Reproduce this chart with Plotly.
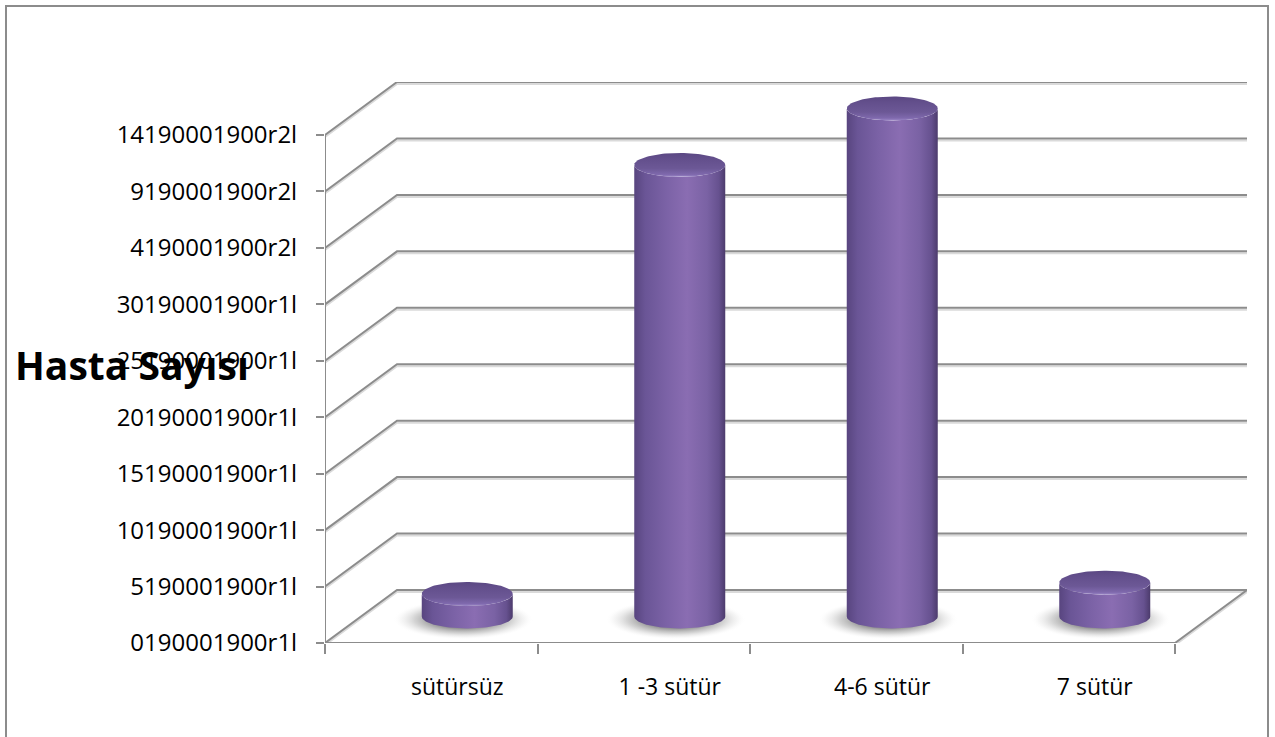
import numpy as np
import plotly.graph_objects as go

# ---------------- data ----------------
categories = ["sütürsüz", "1 -3 sütür", "4-6 sütür", "7 sütür"]
values = [2, 40, 45, 3]
y_tickvals = [0, 5, 10, 15, 20, 25, 30, 35, 40, 45]
y_ticktext = ["0190001900r1l", "5190001900r1l", "10190001900r1l", "15190001900r1l",
              "20190001900r1l", "25190001900r1l", "30190001900r1l", "4190001900r2l",
              "9190001900r2l", "14190001900r2l"]
y_title = "Hasta Sayısı"

# ---------------- layout geometry / style ----------------
W, H = 1275, 737
ML, MR, MT, MB = 325, 28, 82, 94
n = len(categories)
ymax = max(y_tickvals)
plot_w = W - ML - MR
plot_h = H - MT - MB
depth_px = (72, 53)
px_x = (plot_w - depth_px[0]) / n
px_y = (plot_h - depth_px[1]) / ymax
dx = depth_px[0] / px_x
dy = depth_px[1] / px_y

GRID = "#8c8c8c"
GRID_LIGHT = "#dadada"
FONT = "Open Sans"

fig = go.Figure()

# ---------------- walls / gridlines ----------------
def add_line(xs, ys, color, width):
    fig.add_trace(go.Scatter(x=xs, y=ys, mode="lines", line=dict(color=color, width=width),
                             hoverinfo="skip", showlegend=False, cliponaxis=False))

off = 2.0 / px_y
for pass_ in range(2):
    xs, ys = [], []
    o = -off if pass_ == 0 else 0
    for v in y_tickvals:
        xs += [0, dx, n + dx, None]
        ys += [v + o, v + dy + o, v + dy + o, None]
    xs += [0, n, n + dx, None]
    ys += [0 + o, 0 + o, dy + o, None]
    if pass_ == 1:
        xs += [0, 0, None]
        ys += [0, ymax, None]
    add_line(xs, ys, GRID_LIGHT if pass_ == 0 else GRID, 2)

# ---------------- cylinders ----------------
rx = 45.5 / px_x
ry = 12.0 / px_y
t_front = np.linspace(np.pi, 2 * np.pi, 60)
t_full = np.linspace(0, 2 * np.pi, 120)

for i, v in enumerate(values):
    cx = i + 0.5 + dx / 2
    y0 = dy / 2
    y1 = y0 + v
    # soft shadow below the base
    sx = cx - 4 / px_x + 70 / px_x * np.cos(t_full)
    sy = y0 - 3 / px_y + 20 / px_y * np.sin(t_full)
    fig.add_trace(go.Scatter(
        x=sx, y=sy, mode="lines", line=dict(width=0), fill="toself",
        fillgradient=dict(type="radial",
                          colorscale=[[0, "rgba(90,90,90,0.85)"], [0.45, "rgba(110,110,110,0.75)"],
                                      [0.7, "rgba(160,160,160,0.45)"], [0.88, "rgba(210,210,210,0.2)"],
                                      [1, "rgba(255,255,255,0)"]]),
        hoverinfo="skip", showlegend=False))
    # body
    bx = list(cx + rx * np.cos(t_front)) + list(cx + rx * np.cos(t_front[::-1]))
    by = list(y0 + ry * np.sin(t_front)) + list(y1 + ry * np.sin(t_front[::-1]))
    fig.add_trace(go.Scatter(
        x=bx, y=by, mode="lines", line=dict(width=0), fill="toself",
        fillgradient=dict(type="horizontal",
                          colorscale=[[0, "#58457f"], [0.12, "#6a5596"], [0.35, "#7b62a6"],
                                      [0.58, "#8a6db2"], [0.8, "#7a62a4"], [0.93, "#66518f"],
                                      [1, "#4c3b6c"]]),
        hoverinfo="skip", showlegend=False))
    # top
    tx = cx + rx * np.cos(t_full)
    ty = y1 + ry * np.sin(t_full)
    fig.add_trace(go.Scatter(
        x=tx, y=ty, mode="lines", line=dict(width=0), fill="toself",
        fillgradient=dict(type="vertical",
                          colorscale=[[0, "#9a86c6"], [0.1, "#7f69ad"], [0.35, "#6c5896"],
                                      [0.75, "#634f8c"], [1, "#5b4883"]]),
        hoverinfo="skip", showlegend=False))

# ---------------- title & frame ----------------
fig.add_annotation(text=f"<b>{y_title}</b>", xref="paper", yref="paper",
                   x=(132 - ML) / plot_w, y=(H - MB - 365) / plot_h,
                   xanchor="center", yanchor="middle", showarrow=False,
                   font=dict(family=FONT, size=39, color="#000000"))
fig.add_shape(type="rect", xref="paper", yref="paper",
              x0=(6 - ML) / plot_w, x1=(1268 - ML) / plot_w,
              y0=(H - MB - 760) / plot_h, y1=(H - MB - 6) / plot_h,
              line=dict(color=GRID, width=2), layer="above")

label_pos = [i + 0.5 + dx / 2 - 10 / px_x for i in range(n)]

fig.update_layout(
    width=W, height=H,
    margin=dict(l=ML, r=MR, t=MT, b=MB, pad=0),
    paper_bgcolor="white", plot_bgcolor="white",
    showlegend=False,
    font=dict(family=FONT, size=23, color="#000000"),
    xaxis=dict(range=[0, n + dx], showgrid=False, zeroline=False, showline=False,
               tickvals=label_pos, ticktext=categories, ticks="", ticklabelstandoff=28,
               tickfont=dict(family=FONT, size=23, color="#000000"),
               minor=dict(tickvals=list(range(n + 1)), ticks="outside", ticklen=10,
                          tickcolor=GRID, tickwidth=2, showgrid=False),
               fixedrange=True),
    yaxis=dict(range=[0, ymax + dy], showgrid=False, zeroline=False, showline=False,
               tickvals=y_tickvals, ticktext=y_ticktext, ticks="outside", ticklen=8,
               tickcolor=GRID, tickwidth=2, ticklabelstandoff=14,
               tickfont=dict(family=FONT, size=24, color="#000000"),
               fixedrange=True),
)

fig.write_html("out.html")
